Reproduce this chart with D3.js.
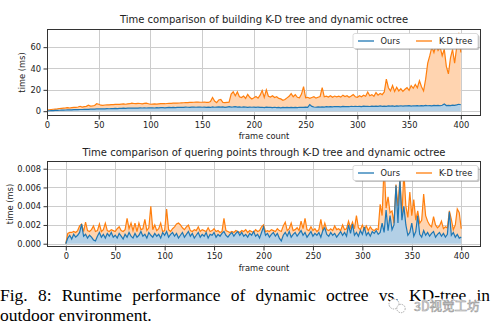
<!DOCTYPE html>
<html><head><meta charset="utf-8">
<script src="https://cdn.jsdelivr.net/npm/d3@7"></script>
<style>body{margin:0;background:#fff} svg{display:block}</style>
</head><body>
<svg id="c" width="493" height="326"></svg>
<script>
// ---------- data ----------
const frames = d3.range(0, 401, 2);
const xTicks = [0, 50, 100, 150, 200, 250, 300, 350, 400];
const buildYTicks = [0, 20, 40, 60];
const queryYTicks = [0, 0.002, 0.004, 0.006, 0.008];
const seriesNames = ["Ours", "K-D tree"];
const titles = ["Time comparison of building K-D tree and dynamic octree",
                "Time comparison of quering points through K-D tree and dynamic octree"];
const xLabel = "frame count";
const yLabel = "time (ms)";
const captionLine1 = ["Fig.", "8:", "Runtime", "performance", "of", "dynamic", "octree", "vs.", "KD-tree", "in"];
const captionLine2 = "outdoor environment.";
const watermark = "3D视觉工坊";

const buildKD = [
 1.0,1.3,1.6,1.8,2.0,2.2,2.5,2.7,2.9,3.1,3.4,3.0,3.4,3.6,3.5,3.9,4.6,3.9,4.3,4.5,5.6,4.8,5.0,5.3,7.0,
 6.5,5.6,5.5,5.8,5.9,6.0,6.2,6.1,6.3,6.4,6.4,6.6,6.8,6.5,6.9,7.0,7.6,7.2,7.1,7.4,7.2,6.9,7.3,7.5,7.0,
 6.5,6.7,6.8,6.6,6.9,7.0,7.1,7.0,7.2,7.4,7.3,7.5,7.6,7.5,7.7,7.8,7.9,8.0,8.1,8.3,8.2,8.4,8.6,8.5,8.4,
 8.4,8.6,8.3,8.2,9.0,12.8,9.5,8.0,10.5,11.0,8.2,8.0,8.3,8.5,16.0,18.2,14.5,18.0,13.5,12.8,14.2,12.0,15.8,13.0,11.5,
 12.5,13.8,12.2,15.0,19.5,13.0,20.0,14.0,13.2,14.5,12.8,13.5,12.0,11.5,10.2,11.0,12.5,14.0,16.5,13.5,15.5,13.0,12.5,16.0,23.0,
 12.5,13.0,12.0,12.8,13.5,12.2,13.0,13.8,22.0,13.5,14.0,13.2,14.5,13.0,14.2,13.5,14.0,13.2,15.0,13.8,14.5,13.0,14.2,15.5,13.5,
 13.0,14.5,13.5,15.0,14.0,18.0,14.5,15.5,14.0,17.5,15.0,16.5,15.5,18.0,30.0,22.0,19.0,24.0,18.5,22.5,19.0,21.0,18.5,20.5,22.0,
 19.5,24.0,21.5,25.0,22.0,28.5,23.0,19.0,30.0,45.0,52.0,60.0,55.0,62.0,57.0,60.0,52.0,58.0,42.0,35.0,50.0,58.0,45.0,60.0,73.5,
 55.0];
const buildOurs = [
 0.3,0.4,0.5,0.6,0.7,0.8,0.9,1.0,1.0,1.1,1.2,1.2,1.3,1.4,1.4,1.5,1.6,1.6,1.7,1.8,1.8,1.9,2.0,2.0,2.1,
 2.2,2.1,2.3,2.2,2.4,2.3,2.5,2.4,2.6,2.5,2.7,2.6,2.8,2.7,2.9,2.8,3.0,2.9,3.0,2.9,3.1,3.0,3.1,3.0,3.2,
 3.1,3.2,3.0,3.3,3.2,3.4,3.3,3.2,3.4,3.5,3.3,3.5,3.4,3.6,3.5,3.7,3.6,3.8,3.7,3.6,3.8,3.9,3.7,3.9,3.8,
 3.7,3.9,3.6,3.8,3.5,4.0,3.7,3.9,4.1,3.8,4.0,3.6,3.9,4.2,3.8,4.0,4.3,3.9,4.1,3.7,4.0,3.8,3.6,3.9,3.7,
 3.8,3.5,3.9,3.6,3.7,3.4,3.8,3.5,3.6,3.3,3.7,3.4,3.5,3.2,3.6,3.3,3.5,3.4,3.6,3.3,3.5,3.4,3.7,3.5,3.6,
 3.8,3.5,6.2,4.5,3.9,3.7,4.0,3.8,4.1,3.9,4.2,4.0,4.3,4.1,4.4,4.2,4.3,4.1,4.5,4.3,4.4,4.2,4.6,4.4,4.5,
 4.4,4.6,4.3,4.7,4.5,4.6,4.4,4.8,4.5,4.7,4.6,4.9,4.5,4.8,4.6,5.0,4.7,4.9,4.6,5.0,4.8,5.1,4.7,5.0,4.9,
 5.2,4.8,5.1,5.0,5.3,4.9,5.2,5.0,5.4,5.1,5.3,5.0,5.5,5.2,5.4,5.1,5.6,6.8,5.3,5.5,5.2,5.7,5.4,5.9,6.5,
 6.0];
const queryKD = [
 0,.0011,.0012,.0012,.0013,.0012,.0014,.0019,.0021,.0013,.0023,.0014,.0013,.0015,.0019,.0013,.0014,.0021,.0013,.0015,.0022,.0014,.0013,.0015,.0014,
 .0013,.0016,.0018,.0014,.0013,.0015,.0027,.0016,.0022,.0014,.0022,.0013,.0022,.0015,.0016,.0026,.0014,.0017,.0040,.0015,.0020,.0014,.0016,.0022,.0013,
 .0014,.0037,.0015,.0013,.0016,.0018,.0021,.0022,.0020,.0017,.0015,.0018,.0020,.0014,.0013,.0015,.0014,.0018,.0013,.0015,.0014,.0013,.0017,.0013,.0014,
 .0016,.0013,.0014,.0012,.0013,.0027,.0014,.0013,.0012,.0013,.0012,.0014,.0013,.0012,.0014,.0013,.0015,.0012,.0014,.0013,.0012,.0015,.0013,.0014,.0018,
 .0020,.0013,.0014,.0013,.0015,.0014,.0013,.0016,.0014,.0013,.0019,.0023,.0014,.0016,.0022,.0014,.0015,.0017,.0014,.0024,.0016,.0027,.0015,.0014,.0018,
 .0014,.0016,.0013,.0015,.0026,.0014,.0022,.0015,.0014,.0016,.0014,.0019,.0015,.0016,.0014,.0020,.0015,.0016,.0024,.0017,.0023,.0016,.0030,.0017,.0015,
 .0020,.0015,.0019,.0014,.0018,.0015,.0014,.0016,.0015,.0042,.0030,.0084,.0038,.0050,.0033,.0035,.0022,.0063,.0040,.0070,.0030,.0077,.0040,.0028,.0055,
 .0030,.0047,.0025,.0035,.0022,.0025,.0053,.0030,.0024,.0020,.0018,.0029,.0020,.0017,.0019,.0024,.0016,.0018,.0017,.0035,.0026,.0015,.0020,.0037,.0033,
 .0016];
const queryOurs = [
 0,.0006,.0009,.0005,.0010,.0007,.0009,.0012,.0021,.0008,.0010,.0006,.0009,.0007,.0004,.0003,.0008,.0012,.0007,.0010,.0006,.0011,.0008,.0012,.0007,
 .0009,.0006,.0011,.0008,.0005,.0010,.0007,.0012,.0008,.0006,.0011,.0007,.0009,.0013,.0008,.0010,.0006,.0012,.0009,.0007,.0011,.0008,.0010,.0006,.0012,
 .0009,.0013,.0007,.0010,.0012,.0008,.0011,.0006,.0009,.0012,.0007,.0010,.0013,.0008,.0011,.0006,.0009,.0012,.0007,.0010,.0008,.0012,.0006,.0010,.0009,
 .0012,.0007,.0010,.0008,.0011,.0013,.0009,.0007,.0010,.0012,.0008,.0011,.0013,.0009,.0012,.0008,.0010,.0007,.0011,.0009,.0013,.0008,.0010,.0006,.0012,
 .0018,.0009,.0011,.0007,.0010,.0012,.0008,.0011,.0006,.0003,.0009,.0012,.0008,.0013,.0007,.0010,.0012,.0008,.0011,.0014,.0009,.0012,.0007,.0010,.0013,
 .0008,.0011,.0009,.0012,.0007,.0014,.0017,.0010,.0008,.0012,.0009,.0011,.0007,.0010,.0013,.0009,.0012,.0008,.0020,.0011,.0021,.0009,.0012,.0008,.0014,
 .0010,.0018,.0009,.0012,.0008,.0013,.0011,.0014,.0010,.0012,.0022,.0012,.0036,.0014,.0030,.0015,.0020,.0062,.0022,.0068,.0025,.0040,.0020,.0009,.0012,
 .0022,.0008,.0013,.0030,.0010,.0007,.0014,.0009,.0012,.0008,.0011,.0013,.0007,.0010,.0012,.0008,.0011,.0007,.0010,.0034,.0009,.0012,.0007,.0010,.0006,
 .0007];

// ---------- drawing ----------
const BLUE = "#1f77b4", ORANGE = "#ff7f0e";
const FONT = "DejaVu Sans";
const svg = d3.select("#c");
svg.append("rect").attr("width", 493).attr("height", 326).attr("fill", "#fff");

function panel(cfg, idx) {
  const L = 47, R = 481;
  const {top, bottom, xDomain, yDomain, yTicks, yFmt, ours, kd, title, titleY, xLabelY, yLabelX} = cfg;
  const x = d3.scaleLinear().domain(xDomain).range([L, R]);
  const y = d3.scaleLinear().domain(yDomain).range([bottom, top]);
  const g = svg.append("g");
  const cid = "clip" + idx;
  g.append("clipPath").attr("id", cid).append("rect")
    .attr("x", L).attr("y", top).attr("width", R - L).attr("height", bottom - top);

  // grid
  g.append("g").selectAll("line").data(xTicks).join("line")
    .attr("x1", d => Math.round(x(d)) + 0.5).attr("x2", d => Math.round(x(d)) + 0.5)
    .attr("y1", top).attr("y2", bottom).attr("stroke", "#cccccc").attr("stroke-width", 1);
  g.append("g").selectAll("line").data(yTicks).join("line")
    .attr("y1", d => Math.round(y(d)) + 0.5).attr("y2", d => Math.round(y(d)) + 0.5)
    .attr("x1", L).attr("x2", R).attr("stroke", "#cccccc").attr("stroke-width", 1);

  const plot = g.append("g").attr("clip-path", `url(#${cid})`);
  const kdArea = d3.area().x((d, i) => x(frames[i])).y0((d, i) => y(ours[i])).y1(d => y(d));
  const oursArea = d3.area().x((d, i) => x(frames[i])).y0(y(0)).y1(d => y(d));
  const line = d3.line().x((d, i) => x(frames[i])).y(d => y(d));
  plot.append("path").datum(kd).attr("d", kdArea).attr("fill", "#ffd4b0");
  plot.append("path").datum(ours).attr("d", oursArea).attr("fill", "#b3d0e6");
  plot.append("path").datum(kd).attr("d", line).attr("fill", "none").attr("stroke", ORANGE).attr("stroke-width", 1.2);
  plot.append("path").datum(ours).attr("d", line).attr("fill", "none").attr("stroke", BLUE).attr("stroke-width", 1.2);

  // axes
  const xa = g.append("g").attr("transform", `translate(0,${bottom})`)
    .call(d3.axisBottom(x).tickValues(xTicks).tickSize(3.5).tickPadding(2.5));
  const ya = g.append("g").attr("transform", `translate(${L},0)`)
    .call(d3.axisLeft(y).tickValues(yTicks).tickFormat(yFmt).tickSize(3.5).tickPadding(2.5));
  [xa, ya].forEach(a => {
    a.select(".domain").remove();
    a.selectAll("line").attr("stroke", "#333");
    a.selectAll("text").attr("font-family", FONT).attr("font-size", 8.3).attr("fill", "#222");
  });

  // frame
  g.append("rect").attr("x", L + 0.5).attr("y", top + 0.5).attr("width", R - L - 1).attr("height", bottom - top - 1)
    .attr("fill", "none").attr("stroke", "#333").attr("stroke-width", 1);

  // title & labels
  g.append("text").attr("x", (L + R) / 2).attr("y", titleY).attr("text-anchor", "middle")
    .attr("dominant-baseline", "central").attr("font-family", FONT).attr("font-size", 10).attr("fill", "#222").text(title);
  g.append("text").attr("x", (L + R) / 2).attr("y", xLabelY).attr("text-anchor", "middle")
    .attr("dominant-baseline", "central").attr("font-family", FONT).attr("font-size", 8.3).attr("fill", "#222").text(xLabel);
  g.append("text").attr("transform", `translate(${yLabelX},${(top + bottom) / 2}) rotate(-90)`)
    .attr("text-anchor", "middle").attr("dominant-baseline", "central")
    .attr("font-family", FONT).attr("font-size", 8.3).attr("fill", "#222").text(yLabel);

  // legend
  const lx = 353, ly = top + 4.5, lw = 125, lh = 15;
  const lg = g.append("g");
  lg.append("rect").attr("x", lx + 1.5).attr("y", ly + 1.5).attr("width", lw).attr("height", lh).attr("rx", 2)
    .attr("fill", "#888").attr("opacity", 0.5);
  lg.append("rect").attr("x", lx).attr("y", ly).attr("width", lw).attr("height", lh).attr("rx", 2)
    .attr("fill", "#fff").attr("stroke", "#d0d0d0").attr("stroke-width", 0.8);
  const cy = ly + lh / 2;
  const items = [{c: BLUE, x0: 358, x1: 374, tx: 380.5}, {c: ORANGE, x0: 416, x1: 432, tx: 439}];
  items.forEach((it, i) => {
    lg.append("line").attr("x1", it.x0).attr("x2", it.x1).attr("y1", cy).attr("y2", cy)
      .attr("stroke", it.c).attr("stroke-width", 1.3);
    lg.append("text").attr("x", it.tx).attr("y", cy).attr("dominant-baseline", "central")
      .attr("font-family", FONT).attr("font-size", 8.3).attr("fill", "#222").text(seriesNames[i]);
  });
}

panel({top: 29, bottom: 116, xDomain: [0, 419.5], yDomain: [-4.5, 77], yTicks: buildYTicks,
       yFmt: d3.format("d"), ours: buildOurs, kd: buildKD, title: titles[0],
       titleY: 19, xLabelY: 136, yLabelX: 22}, 0);
panel({top: 161, bottom: 247, xDomain: [-19, 420], yDomain: [-0.00035, 0.00882], yTicks: queryYTicks,
       yFmt: d3.format(".3f"), ours: queryOurs, kd: queryKD, title: titles[1],
       titleY: 152, xLabelY: 268, yLabelX: 10}, 1);

// caption (justified first line)
const SERIF = "Liberation Serif";
const cap = svg.append("g").attr("font-family", SERIF).attr("font-size", 17.5).attr("fill", "#000");
const words = cap.selectAll("text.w").data(captionLine1).join("text").attr("class", "w")
  .attr("y", 300.5).text(d => d);
const widths = [];
words.each(function () { widths.push(this.getComputedTextLength()); });
const total = d3.sum(widths);
const gap = (490 - total) / (captionLine1.length - 1);
let cx = 0;
words.attr("x", (d, i) => { const v = cx; cx += widths[i] + gap; return v; });
cap.append("text").attr("x", 0).attr("y", 320.5).text(captionLine2);

// watermark
const wm = svg.append("g");
wm.append("circle").attr("cx", 394).attr("cy", 304).attr("r", 5).attr("fill", "#fff")
  .attr("stroke", "#aaa").attr("stroke-width", 1).attr("stroke-dasharray", "1.5,1");
wm.append("circle").attr("cx", 401).attr("cy", 308.5).attr("r", 4.2).attr("fill", "#fff")
  .attr("stroke", "#aaa").attr("stroke-width", 1).attr("stroke-dasharray", "1.5,1");
wm.append("text").attr("x", 414).attr("y", 311).attr("font-family", "Noto Sans CJK SC").attr("font-size", 12.5)
  .attr("fill", "#fff").attr("stroke", "#fff").attr("stroke-width", 3).attr("opacity", 0.8).text(watermark);
wm.append("text").attr("x", 414).attr("y", 311).attr("font-family", "Noto Sans CJK SC").attr("font-size", 12.5)
  .attr("fill", "#f4f4f4").attr("stroke", "#999").attr("stroke-width", 0.6).text(watermark);
</script>
</body></html>
